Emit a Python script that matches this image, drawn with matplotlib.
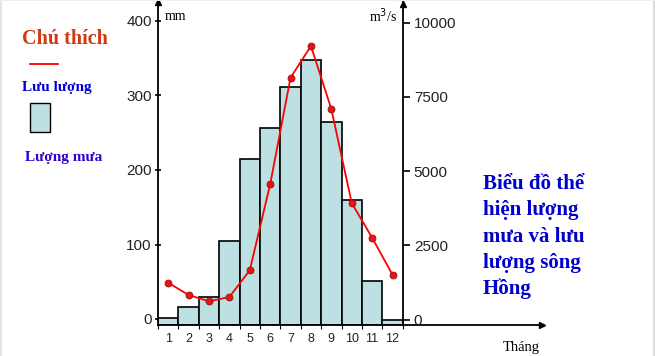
import matplotlib
matplotlib.use("Agg")
import matplotlib.pyplot as plt
import numpy as np

months = [1, 2, 3, 4, 5, 6, 7, 8, 9, 10, 11, 12]
month_labels = ["1", "2", "3", "4", "5", "6", "7", "8", "9", "10", "11", "12"]
rain_mm = [2, 16, 29, 105, 215, 257, 312, 347, 264, 160, 51, -2]
flow_m3s = [1240, 825, 613, 758, 1658, 4555, 8147, 9215, 7092, 3925, 2756, 1509]
left_ticks = [0, 100, 200, 300, 400]
right_ticks = [0, 2500, 5000, 7500, 10000]

W, H = 655, 356
fig = plt.figure(figsize=(W / 100, H / 100), dpi=100)
fig.patch.set_facecolor("white")

# light gray frame strips of the original screenshot
fig.add_artist(plt.Rectangle((652.5 / W, 0), 2.5 / W, 1, facecolor="#dcdcdc",
                             edgecolor="none", transform=fig.transFigure))
fig.add_artist(plt.Rectangle((0, 0), 1.5 / W, 1, facecolor="#e4e4e4",
                             edgecolor="none", transform=fig.transFigure))
fig.add_artist(plt.Rectangle((0, 1 - 1 / H), 1, 1 / H, facecolor="#eeeeee",
                             edgecolor="none", transform=fig.transFigure))

ax_left_px, ax_right_px, ax_bot_px, ax_top_px = 158, 542, 325, 2
ax = fig.add_axes([ax_left_px / W, (H - ax_bot_px) / H,
                   (ax_right_px - ax_left_px) / W, (ax_bot_px - ax_top_px) / H])
bar_right_px = 402.7
bar_w_px = (bar_right_px - ax_left_px) / 12
x_max = 12.5 + (ax_right_px - bar_right_px) / bar_w_px
ax.set_xlim(0.5, x_max)

ybot = -(ax_bot_px - 319) / 0.745
ytop = (319 - ax_top_px) / 0.745
ax.set_ylim(ybot, ytop)

bar_color = "#bde0e3"
heights = [v - ybot for v in rain_mm]
ax.bar(months, heights, bottom=ybot, width=1.0, color=bar_color,
       edgecolor="black", linewidth=1.2, zorder=2)

ax.spines["top"].set_visible(False)
ax.spines["right"].set_visible(False)
ax.spines["left"].set_linewidth(1.3)
ax.spines["bottom"].set_linewidth(1.3)
ax.set_yticks(left_ticks)
ax.set_yticklabels([str(t) for t in left_ticks], fontsize=11,
                   family="Liberation Sans", color="#222222")
ax.tick_params(axis="y", direction="inout", length=5, width=1.2, pad=2)
ax.set_xticks(months)
ax.set_xticklabels(month_labels, fontsize=9, family="Liberation Sans", color="#222222")
ax.tick_params(axis="x", length=0, pad=6)
ax.set_xticks(np.arange(0.5, 13, 1.0), minor=True)
ax.tick_params(axis="x", which="minor", direction="out", length=3, width=0.8)

ax2 = ax.twinx()
r_bot = -(ax_bot_px - 319.5) / 0.02968
r_top = (319.5 - ax_top_px) / 0.02968
ax2.set_ylim(r_bot, r_top)
ax2.spines["top"].set_visible(False)
ax2.spines["left"].set_visible(False)
ax2.spines["bottom"].set_visible(False)
ax2.spines["right"].set_position(("data", 12.5))
ax2.spines["right"].set_linewidth(1.3)
ax2.set_yticks(right_ticks)
ax2.set_yticklabels([str(t) for t in right_ticks], fontsize=11,
                    family="Liberation Sans", color="#222222")
ax2.tick_params(axis="y", direction="out", length=5, width=1.2, pad=3)
ax2.plot(months, flow_m3s, color="#ff0000", linewidth=1.3, marker="o",
         markersize=5, markerfacecolor="#ee1111", markeredgecolor="#991111",
         markeredgewidth=0.6, zorder=5)

# arrows at axis ends
ax.plot([0.5], [ytop], marker="^", color="black", markersize=4, clip_on=False, zorder=6)
ax2.plot([12.5], [r_top - 60], marker="^", color="black", markersize=4, clip_on=False, zorder=6)
ax.plot([x_max], [ybot], marker=">", color="black", markersize=4, clip_on=False, zorder=6)

serif = "Liberation Serif"
fig.text(165 / W, 1 - 17 / H, "mm", fontsize=10, family=serif, va="center", ha="left")
fig.text(397 / W, 1 - 16 / H, "m$^{3}$/s", fontsize=10, family=serif, va="center", ha="right")
fig.text(540 / W, 1 - 348 / H, "Tháng", fontsize=10.5, family=serif, va="center", ha="right")

fig.text(22 / W, 1 - 39 / H, "Chú thích", fontsize=14.5, family=serif, weight="bold",
         color="#d03a10", va="center", ha="left")
fig.add_artist(plt.Line2D([30 / W, 58 / W], [1 - 64 / H, 1 - 64 / H],
                          color="#ff0000", linewidth=1.3, transform=fig.transFigure))
fig.text(22 / W, 1 - 87 / H, "Lưu lượng", fontsize=11, family=serif, weight="bold",
         color="#0000cc", va="center", ha="left")
fig.add_artist(plt.Rectangle((30 / W, 1 - 132 / H), 20 / W, 29 / H,
                             facecolor=bar_color, edgecolor="black", linewidth=1.0,
                             transform=fig.transFigure))
fig.text(25 / W, 1 - 158 / H, "Lượng mưa", fontsize=11, family=serif, weight="bold",
         color="#3300cc", va="center", ha="left")

title_lines = ["Biểu đồ thể", "hiện lượng", "mưa và lưu", "lượng sông", "Hồng"]
for i, line in enumerate(title_lines):
    fig.text(483 / W, 1 - (184 + i * 26.3) / H, line, fontsize=15, family=serif,
             weight="bold", color="#0000cc", va="center", ha="left")

fig.savefig("out.png", dpi=100)
